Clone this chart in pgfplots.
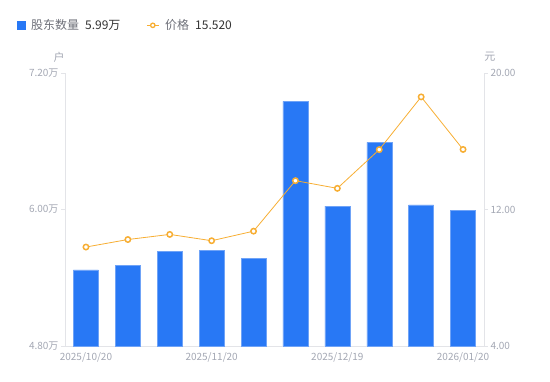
\documentclass[border=0pt]{standalone}
\usepackage{pgfplots}
\pgfplotsset{compat=1.18}
\usepackage{fontspec}
\setmainfont{Noto Sans CJK SC}
\definecolor{barblue}{HTML}{2878F5}
\definecolor{baredge}{HTML}{6FA3F7}
\definecolor{lineorange}{HTML}{F7AE33}
\definecolor{ticktext}{HTML}{A3A7B3}
\definecolor{axisgray}{HTML}{E3E4E8}
\definecolor{legendgray}{HTML}{6E7079}
\definecolor{darktext}{HTML}{333333}
\begin{document}
\begin{tikzpicture}
\useasboundingbox (0pt,0pt) rectangle (550pt,381pt);
\begin{axis}[
  at={(65pt,35pt)}, anchor=south west,
  scale only axis, width=419pt, height=273pt,
  xmin=-0.5, xmax=9.5, ymin=4.8, ymax=7.2,
  axis x line*=bottom, axis y line*=left,
  axis line style={axisgray, line width=0.8pt},
  xtick={0,3,6,9},
  xticklabels={2025/10/20,2025/11/20,2025/12/19,2026/01/20},
  xtick style={draw=none},
  ytick={4.8,6,7.2},
  yticklabels={4.80万,6.00万,7.20万},
  ytick style={axisgray, line width=0.8pt},
  major tick length=4pt,
  tick align=outside,
  tick label style={font=\fontsize{10}{12}\selectfont, text=ticktext},
  yticklabel style={xshift=1pt},
  xticklabel style={yshift=1pt},
  /pgf/number format/assume math mode=true,
  clip=false,
  legend style={at={(-0.116,1.204)}, anchor=north west, draw=none, fill=none,
    font=\fontsize{12}{14}\selectfont, text=legendgray,
    legend columns=2,
    /tikz/every odd column/.append style={column sep=4pt},
    /tikz/every even column/.append style={column sep=24pt},
    legend cell align=left, inner sep=0pt},
]
\addplot[ybar, bar width=25pt, fill=barblue, draw=baredge, line width=0.5pt,
  legend image code/.code={\fill[barblue] (0pt,-4pt) rectangle (8pt,4pt);}]
  coordinates {(0,5.47) (1,5.51) (2,5.63) (3,5.64) (4,5.57) (5,6.95) (6,6.03) (7,6.59) (8,6.04) (9,5.99)};
\addlegendentry{股东数量\hspace{6pt}{\color{darktext}5.99万}}
\addlegendimage{legend image code/.code={\draw[lineorange, line width=0.8pt] (0pt,0pt) -- (12pt,0pt); \draw[lineorange, fill=white, line width=1.3pt] (6pt,0pt) circle (2.2pt);}}
\addlegendentry{价格\hspace{6pt}{\color{darktext}15.520}}
\node[font=\fontsize{11}{13}\selectfont, text=ticktext] at (axis description cs:-0.014,1.058) {户};
\node[font=\fontsize{11}{13}\selectfont, text=ticktext] at (axis description cs:1.014,1.058) {元};
\end{axis}
\begin{axis}[
  at={(65pt,35pt)}, anchor=south west,
  scale only axis, width=419pt, height=273pt,
  xmin=-0.5, xmax=9.5, ymin=4, ymax=20,
  axis x line=none, axis y line*=right,
  axis line style={axisgray, line width=0.8pt},
  ytick={4,12,20},
  yticklabels={4.00,12.00,20.00},
  ytick style={axisgray, line width=0.8pt},
  major tick length=4pt,
  tick align=outside,
  tick label style={font=\fontsize{10}{12}\selectfont, text=ticktext},
  yticklabel style={xshift=-1pt},
  /pgf/number format/assume math mode=true,
  clip=false,
]
\addplot[lineorange, line width=0.8pt, mark=*, mark size=2.7pt,
  mark options={fill=white, draw=lineorange, line width=1.5pt}]
  coordinates {(0,9.80) (1,10.24) (2,10.54) (3,10.17) (4,10.73) (5,13.69) (6,13.24) (7,15.51) (8,18.60) (9,15.52)};
\end{axis}
\end{tikzpicture}
\end{document}
